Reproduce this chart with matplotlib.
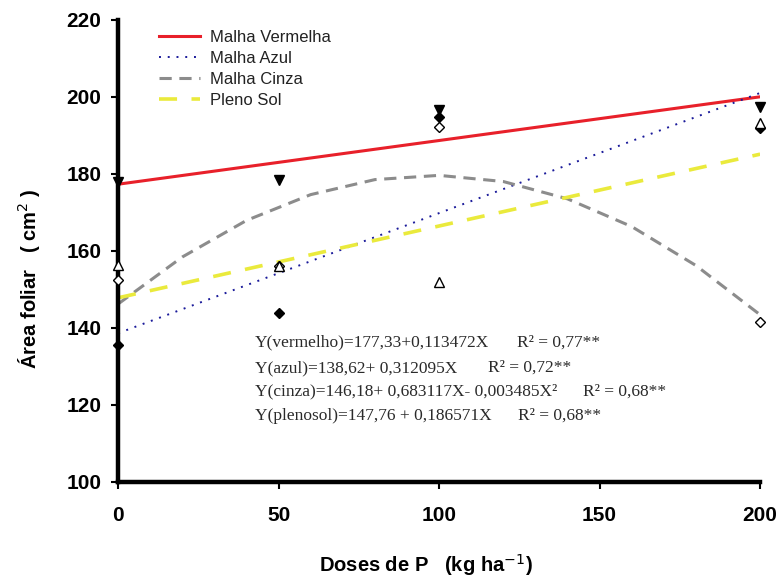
import matplotlib
matplotlib.use("Agg")
import matplotlib.pyplot as plt

# doses de P
doses = [0, 50, 100, 200]

pts_vermelha = [177.8, 178.4, 196.6, 197.4]
pts_azul = [135.6, 143.9, 194.8, 192.0]
pts_cinza = [152.5, 156.0, 192.2, 141.6]
pts_pleno = [156.4, 156.0, 151.9, 193.2]

# fitted lines
line_x = [0, 200]
fit_vermelha = [177.3, 200.0]
fit_azul = [138.6, 201.0]
fit_pleno = [147.8, 185.1]
curve_x = [0, 20, 40, 60, 80, 100, 120, 140, 160, 180, 200]
fit_cinza = [146.2, 158.4, 167.9, 174.6, 178.5, 179.6, 178.0, 173.5, 166.3, 156.2, 143.4]

equations = ["Y(vermelho)=177,33+0,113472X",
             "Y(azul)=138,62+ 0,312095X",
             "Y(cinza)=146,18+ 0,683117X- 0,003485X²",
             "Y(plenosol)=147,76 + 0,186571X"]
r2_labels = ["R² = 0,77**", "R² = 0,72**", "R² = 0,68**", "R² = 0,68**"]
eq_y = [136.1, 129.6, 123.4, 117.1]
r2_x = [124.3, 115.3, 144.9, 124.6]

fig = plt.figure(figsize=(7.82, 5.82), dpi=100)
ax = fig.add_axes([0.151, 0.172, 0.821, 0.794])

ax.plot(line_x, fit_vermelha, color="#e8202a", lw=2.2, label="Malha Vermelha")
ax.plot(line_x, fit_azul, color="#1a1a9a", lw=1.4, ls=(0, (1, 3.5)), label="Malha Azul")
ax.plot(curve_x, fit_cinza, color="#8c8c8c", lw=2.2, ls=(0, (4, 2.5)), label="Malha Cinza")
ax.plot(line_x, fit_pleno, color="#eaea3c", lw=2.6, ls=(0, (5, 4)), label="Pleno Sol")

mk = dict(ls="none", clip_on=False, zorder=5, mec="black", mew=1.0)
ax.plot(doses, pts_vermelha, marker="v", ms=7, mfc="black", **mk)
ax.plot(doses, pts_azul, marker="D", ms=5, mfc="black", **mk)
ax.plot(doses, pts_cinza, marker="D", ms=5.5, mfc="white", **mk)
ax.plot(doses, pts_pleno, marker="^", ms=7, mfc="white", **mk)

for txt, y, rx, r2 in zip(equations, eq_y, r2_x, r2_labels):
    ax.text(42.7, y, txt, family="Liberation Serif", fontsize=12.5,
            color="#2a2a2a", va="center")
    ax.text(rx, y, r2, family="Liberation Serif", fontsize=12.5,
            color="#2a2a2a", va="center")

ax.set_xlim(0, 200)
ax.set_ylim(100, 220)
ax.set_xticks([0, 50, 100, 150, 200])
ax.set_yticks(range(100, 221, 20))
for s in ["top", "right"]:
    ax.spines[s].set_visible(False)
for s in ["left", "bottom"]:
    ax.spines[s].set_linewidth(3.2)
ax.tick_params(axis="y", direction="out", length=5, width=1.5, pad=7)
ax.tick_params(axis="x", direction="out", length=5, width=1.5, pad=12)
for lab in ax.get_xticklabels() + ax.get_yticklabels():
    lab.set_family("Liberation Sans")
    lab.set_fontweight("bold")
    lab.set_fontsize(15)

ax.set_ylabel("Área foliar   ( cm$^{2}$ )", family="Liberation Sans",
              fontweight="bold", fontsize=14.5)
ax.yaxis.set_label_coords(-0.118, 0.44)
ax.set_xlabel("Doses de P   (kg ha$^{-1}$)", family="Liberation Sans",
              fontweight="bold", fontsize=14.5)
ax.xaxis.set_label_coords(0.48, -0.152)

leg = ax.legend(loc="upper left", bbox_to_anchor=(0.04, 1.01), frameon=False,
                handlelength=2.5, handletextpad=0.6, labelspacing=0.35,
                prop={"family": "Liberation Sans", "size": 12})
for t in leg.get_texts():
    t.set_color("#222222")

fig.savefig("out.png", dpi=100)
